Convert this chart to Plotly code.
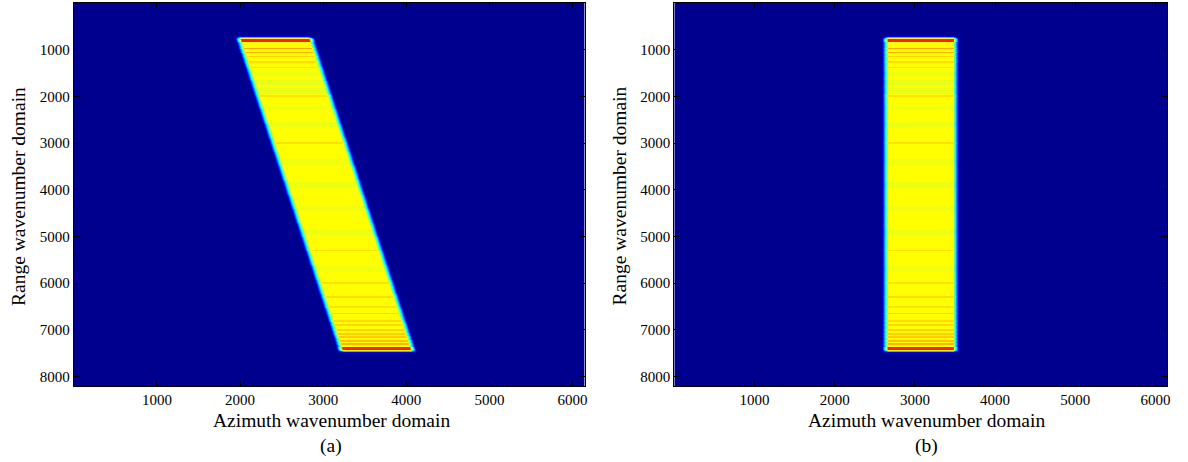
import numpy as np
import plotly.graph_objects as go

# ---- chart values ----
X_MAX = 6144          # azimuth samples
Y_MAX = 8200          # range samples shown
X_TICKS = [1000, 2000, 3000, 4000, 5000, 6000]
Y_TICKS = [1000, 2000, 3000, 4000, 5000, 6000, 7000, 8000]

# panel (a): skewed spectrum support (parallelogram)
A_TOP_Y, A_BOTTOM_Y = 730, 7470
A_TOP_X = [1975, 2860]
A_BOTTOM_X = [3215, 4095]
# panel (b): after correction (rectangle)
B_TOP_Y, B_BOTTOM_Y = 730, 7470
B_X = [2630, 3515]

BASE_LEVEL = 0.625     # yellow plateau
# horizontal stripes inside the support: range position, level, half width
STRIPE_Y = [815, 975, 1060, 1150, 1260, 1380, 1520, 1700, 1880, 2000, 2250, 2600,
            3000, 3400, 3900, 4400, 4900, 5300, 5700, 6000, 6300, 6500, 6650,
            6800, 6900, 7000, 7080, 7160, 7240, 7300, 7385]
STRIPE_LEVEL = [0.85, 0.71, 0.70, 0.665, 0.66, 0.655, 0.605, 0.60, 0.60, 0.655, 0.61, 0.605,
                0.655, 0.61, 0.605, 0.61, 0.605, 0.655, 0.61, 0.655, 0.66, 0.655, 0.665,
                0.66, 0.665, 0.67, 0.675, 0.675, 0.69, 0.70, 0.85]
STRIPE_HALF_WIDTH = [30, 10, 10, 10, 10, 10, 40, 60, 50, 10, 50, 60,
                     10, 60, 60, 60, 60, 10, 60, 10, 10, 10, 10,
                     10, 10, 10, 10, 10, 10, 10, 30]

DX, DY = 12, 20
xs = np.arange(DX / 2, X_MAX, DX)
ys = np.arange(DY / 2, Y_MAX, DY)


def row_levels():
    lev = np.full(ys.shape, BASE_LEVEL)
    for yc, lv, hw in zip(STRIPE_Y, STRIPE_LEVEL, STRIPE_HALF_WIDTH):
        m = np.abs(ys - yc) <= hw
        lev[m] = lv
    return lev


def support(top_y, bottom_y, xl_top, xr_top, xl_bot, xr_bot, edge_x=80.0, edge_y=60.0):
    t = np.clip((ys - top_y) / (bottom_y - top_y), 0, 1)[:, None]
    xl = xl_top + (xl_bot - xl_top) * t
    xr = xr_top + (xr_bot - xr_top) * t
    X = xs[None, :]
    h = np.clip(np.minimum(X - xl, xr - X) / edge_x + 0.5, 0, 1)
    Y = ys[:, None]
    v = np.clip(np.minimum(Y - top_y, bottom_y - Y) / edge_y + 0.5, 0, 1)
    return h * v


lev = row_levels()[:, None]
za = np.round(support(A_TOP_Y, A_BOTTOM_Y, A_TOP_X[0], A_TOP_X[1], A_BOTTOM_X[0], A_BOTTOM_X[1]) * lev, 3)
zb = np.round(support(B_TOP_Y, B_BOTTOM_Y, B_X[0], B_X[1], B_X[0], B_X[1]) * lev, 3)

JET = [[0.0, "rgb(0,0,143)"], [0.11, "rgb(0,0,255)"], [0.36, "rgb(0,255,255)"],
       [0.625, "rgb(255,255,0)"], [0.875, "rgb(255,0,0)"], [1.0, "rgb(128,0,0)"]]

FONT = "Liberation Serif"
W, H = 1188, 462

fig = go.Figure()
for z, xa, ya in [(za, "x", "y"), (zb, "x2", "y2")]:
    fig.add_trace(go.Heatmap(z=z, x0=DX / 2, dx=DX, y0=DY / 2, dy=DY,
                             colorscale=JET, zmin=0, zmax=1, showscale=False,
                             xaxis=xa, yaxis=ya, hoverinfo="skip"))

ydom = [1 - 386 / H, 1 - 3 / H]
axis_common = dict(showline=True, linecolor="black", linewidth=1, mirror="allticks",
                   ticks="inside", ticklen=5, tickcolor="black", showgrid=False, zeroline=False,
                   tickfont=dict(family=FONT, size=15, color="black"))
fig.update_layout(
    width=W, height=H, margin=dict(l=0, r=0, t=0, b=0),
    font=dict(family=FONT, size=15, color="black"),
    paper_bgcolor="white", plot_bgcolor="white",
    xaxis=dict(domain=[74 / W, 586 / W], range=[0, X_MAX], tickvals=X_TICKS, anchor="y", **axis_common),
    yaxis=dict(domain=ydom, range=[Y_MAX, 0], tickvals=Y_TICKS, anchor="x", **axis_common),
    xaxis2=dict(domain=[676 / W, 1170 / W], range=[0, X_MAX], tickvals=X_TICKS, anchor="y2", **axis_common),
    yaxis2=dict(domain=ydom, range=[Y_MAX, 0], tickvals=Y_TICKS, anchor="x2", **axis_common),
)

tfont = dict(family=FONT, size=19.5, color="black")
ann = []
for cx, lx, lab in [(332, 18, "(a)"), (929, 621, "(b)")]:
    ann.append(dict(x=cx / W, y=1 - 420 / H, xref="paper", yref="paper", text="Azimuth wavenumber domain",
                    showarrow=False, font=tfont, xanchor="center", yanchor="middle"))
    ann.append(dict(x=cx / W, y=1 - 446 / H, xref="paper", yref="paper", text=lab,
                    showarrow=False, font=tfont, xanchor="center", yanchor="middle"))
    ann.append(dict(x=lx / W, y=1 - 196 / H, xref="paper", yref="paper", text="Range wavenumber domain",
                    showarrow=False, font=tfont, textangle=-90, xanchor="center", yanchor="middle"))
fig.update_layout(annotations=ann)

fig.write_html("out.html")
